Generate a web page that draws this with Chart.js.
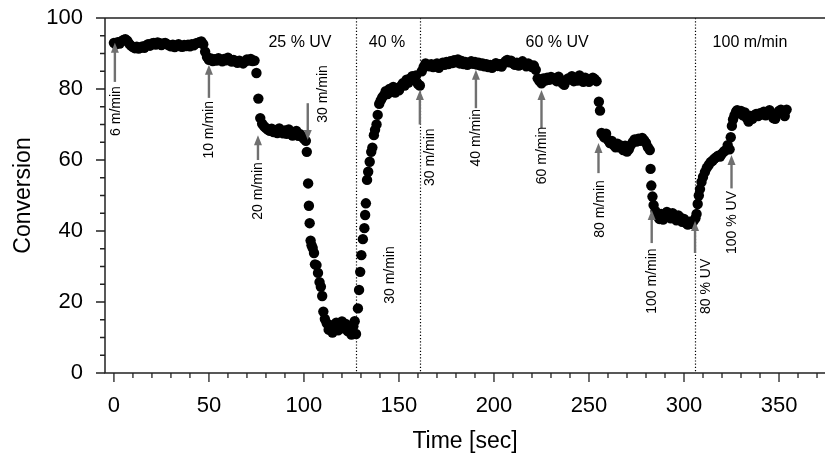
<!DOCTYPE html>
<html>
<head>
<meta charset="utf-8">
<script src="https://cdn.jsdelivr.net/npm/chart.js@4.4.1/dist/chart.umd.min.js"></script>
<style>
  html, body { margin: 0; padding: 0; background: #fff; }
  #wrap { width: 825px; height: 455px; }
</style>
</head>
<body>
<div id="wrap"><canvas id="graphique" width="825" height="455"></canvas></div>
<script>
// Measured points (time in seconds, conversion in %)
var timeSec = [
  0, 1, 2, 3, 4, 5, 6, 7, 8, 9,
  10, 11, 12, 13, 14, 15, 16, 17, 18, 19,
  20, 21, 22, 23, 24, 25, 26, 27, 28, 29,
  30, 31, 32, 33, 34, 35, 36, 37, 38, 39,
  40, 41, 42, 43, 44, 45, 46, 47, 48, 49,
  50, 51, 52, 53, 54, 55, 56, 57, 58, 59,
  60, 61, 62, 63, 64, 65, 66, 67, 68, 69,
  70, 71, 72, 73, 74, 75, 76, 77, 78, 79,
  80, 81, 82, 83, 84, 85, 86, 87, 88, 89,
  90, 91, 92, 93, 94, 95, 96, 97, 98, 99,
  100, 101, 101.5, 102.2, 102.6, 103, 103.5, 104, 104.6, 105.3,
  105.8, 106.6, 107.4, 108.2, 108.9, 109.6, 110.2, 111, 112, 113,
  114, 115, 116, 117, 118, 119, 120, 121, 122, 123,
  124, 125, 126, 126.7, 127.4, 128.4, 129, 129.6, 130.2, 131,
  131.8, 132.2, 132.6, 133.2, 133.8, 134.6, 135.4, 136, 136.8, 137.4,
  138.2, 138.8, 139.6, 140.4, 141.2, 142, 143, 144, 145, 146,
  147, 148, 149, 150, 151, 152, 153, 154, 155, 156,
  157, 158, 159, 160, 161, 162, 163, 164, 165, 166,
  167, 168, 169, 170, 171, 172, 173, 174, 175, 176,
  177, 178, 179, 180, 181, 182, 183, 184, 185, 186,
  187, 188, 189, 190, 191, 192, 193, 194, 195, 196,
  197, 198, 199, 200, 201, 202, 203, 204, 205, 206,
  207, 208, 209, 210, 211, 212, 213, 214, 215, 216,
  217, 218, 219, 220, 221, 222, 223, 224, 225, 226,
  227, 228, 229, 230, 231, 232, 233, 234, 235, 236,
  237, 238, 239, 240, 241, 242, 243, 244, 245, 246,
  247, 248, 249, 250, 251, 252, 253, 254, 255.2, 255.8,
  256.6, 257, 258, 259, 260, 261, 262, 263, 264, 265,
  266, 267, 268, 269, 270, 271, 272, 273, 274, 275,
  276, 277, 278, 279, 280, 281, 282, 282.4, 282.8, 283.4,
  284, 285, 286, 287, 288, 289, 290, 291, 292, 293,
  294, 295, 296, 297, 298, 299, 300, 301, 302, 303,
  304, 305, 306, 306.6, 307.2, 307.8, 308.4, 309.2, 310, 311,
  312, 313, 314, 315, 316, 317, 318, 319, 320, 321,
  322, 323, 324, 324.6, 325.2, 325.8, 326.6, 327.4, 328, 329,
  330, 331, 332, 333, 334, 335, 336, 337, 338, 339,
  340, 341, 342, 343, 344, 345, 346, 347, 348, 349,
  350, 351, 352, 353, 354
];
var conversion = [
  93.0, 92.6, 93.2, 92.8, 93.5, 93.8, 94.0, 93.6, 92.8, 92.2,
  91.8, 91.5, 91.9, 91.4, 91.7, 92.0, 91.6, 92.3, 92.6, 92.2,
  92.8, 93.0, 92.5, 93.1, 92.9, 92.4, 92.8, 93.0, 92.6, 92.3,
  92.0, 92.5, 91.8, 92.2, 92.6, 92.0, 91.9, 92.4, 92.1, 92.5,
  92.0, 92.6, 92.3, 92.8, 93.0, 93.2, 93.4, 92.6, 90.5, 89.0,
  88.2, 88.6, 87.9, 88.4, 88.0, 88.7, 88.2, 87.8, 88.5, 88.1,
  88.8, 88.3, 87.7, 88.2, 87.9, 87.4, 88.0, 87.6, 87.2, 87.8,
  88.3, 88.0, 88.5, 87.9, 88.0, 84.5, 77.3, 71.8, 70.2, 69.5,
  69.0, 68.6, 68.2, 68.8, 67.9, 68.4, 67.6, 68.9, 68.2, 67.5,
  68.3, 67.4, 68.6, 67.8, 66.9, 67.5, 68.2, 66.8, 67.3, 66.5,
  66.0, 65.4, 62.3, 53.4, 47.1, 42.2, 37.3, 36.0, 35.2, 33.8,
  30.6, 30.4, 28.2, 25.6, 24.3, 21.7, 17.3, 15.2, 14.0, 12.2,
  13.5, 11.4, 12.8, 14.2, 12.0, 13.6, 14.5, 12.6, 13.8, 11.8,
  12.4, 10.8, 13.2, 14.6, 11.0, 18.2, 23.4, 28.5, 33.2, 37.7,
  40.8, 44.5, 47.8, 54.4, 56.7, 59.5, 62.3, 63.5, 67.0, 68.5,
  70.0, 72.7, 75.8, 76.8, 77.6, 78.2, 79.4, 78.6, 80.0, 79.2,
  80.6, 79.0, 80.2, 79.6, 80.8, 81.6, 81.0, 82.6, 81.8, 83.0,
  83.6, 82.8, 83.8, 81.4, 81.0, 85.0, 86.2, 87.2, 86.8, 86.4,
  87.0, 86.2, 86.6, 87.2, 86.0, 86.9, 87.4, 86.8, 87.6, 87.0,
  87.8, 87.3, 88.1, 87.5, 88.3, 87.2, 87.9, 87.0, 87.6, 86.8,
  87.3, 87.8, 87.1, 87.6, 86.9, 87.4, 86.6, 87.2, 86.4, 87.0,
  86.2, 86.8, 86.0, 86.7, 87.3, 86.5, 87.0, 86.3, 87.2, 87.8,
  88.2, 87.5, 88.0, 87.2, 86.8, 87.4, 86.6, 87.1, 87.8, 87.0,
  86.4, 87.2, 86.8, 86.2, 86.6, 85.4, 83.0, 82.2, 81.6, 83.0,
  82.4, 83.2, 82.6, 83.4, 82.8, 83.0, 82.2, 83.5, 82.6, 81.6,
  81.2, 82.4, 83.0, 82.8, 83.6, 82.2, 83.0, 82.4, 83.8, 82.8,
  82.0, 83.2, 82.4, 82.0, 82.6, 83.2, 82.8, 82.2, 76.4, 73.9,
  67.6, 67.2, 66.4, 67.4, 65.6, 64.8, 65.4, 64.2, 63.6, 64.6,
  63.6, 64.0, 62.8, 64.0, 62.4, 63.0, 64.2, 65.0, 65.8, 65.2,
  66.0, 65.4, 66.2, 65.6, 64.8, 63.6, 62.8, 57.5, 52.8, 49.7,
  47.3, 45.6, 44.2, 43.4, 44.8, 43.2, 44.6, 45.4, 44.0, 43.6,
  45.0, 44.2, 43.0, 44.4, 43.8, 42.6, 43.4, 42.2, 41.8, 42.6,
  42.0, 42.8, 43.6, 44.8, 47.6, 50.0, 51.8, 53.8, 55.2, 56.6,
  57.8, 58.6, 59.4, 59.8, 60.4, 60.8, 61.2, 61.0, 61.8, 62.4,
  62.8, 64.2, 63.0, 66.4, 69.6, 71.4, 72.6, 73.6, 74.0, 73.2,
  73.8, 72.6, 73.4, 71.8, 70.8, 72.4, 71.6, 72.6, 73.0, 72.4,
  73.2, 72.8, 73.6, 72.6, 73.4, 74.0, 73.2, 71.8, 71.6, 73.0,
  73.8, 74.2, 73.2, 72.4, 74.2
];

// Axis ticks
var xTicks = [0, 50, 100, 150, 200, 250, 300, 350];
var yTicks = [0, 20, 40, 60, 80, 100];

// Dotted separators between UV phases (seconds)
var separateurs = [127.4, 161, 305.8];

// Arrows: time, tail value, tip value
var fleches = [
  { t: 0.5, de: 82, a: 93 },
  { t: 50, de: 77.5, a: 86.8 },
  { t: 75.8, de: 60, a: 67 },
  { t: 102, de: 76, a: 65.6 },
  { t: 161, de: 70, a: 79.7 },
  { t: 190.5, de: 74.6, a: 85.4 },
  { t: 225, de: 69, a: 79.7 },
  { t: 255, de: 56.3, a: 64.8 },
  { t: 283, de: 36.6, a: 45.9 },
  { t: 305.8, de: 33.8, a: 42.8 },
  { t: 325, de: 52, a: 61.4 }
];

// Vertical notes (text centre in data units)
var notesVert = [
  { txt: "6 m/min", t: 1.2, v: 73.8 },
  { txt: "10 m/min", t: 50, v: 68.5 },
  { txt: "20 m/min", t: 75.8, v: 51.3 },
  { txt: "30 m/min", t: 110, v: 78.6 },
  { txt: "30 m/min", t: 145.3, v: 27.6 },
  { txt: "30 m/min", t: 166.3, v: 60.8 },
  { txt: "40 m/min", t: 190.5, v: 66.3 },
  { txt: "60 m/min", t: 225.3, v: 61.3 },
  { txt: "80 m/min", t: 255.8, v: 46.2 },
  { txt: "100 m/min", t: 283.2, v: 25.9 },
  { txt: "80 % UV", t: 311.6, v: 24.4 },
  { txt: "100 % UV", t: 325.3, v: 42.4 }
];

// Horizontal notes at the top
var notesHaut = [
  { txt: "25 % UV", t: 97.9, v: 93.2 },
  { txt: "40 %", t: 143.7, v: 93.2 },
  { txt: "60 % UV", t: 233.2, v: 93.2 },
  { txt: "100 m/min", t: 334.7, v: 93.2 }
];

var police = '"Liberation Sans", Arial, Helvetica, sans-serif';

var points = [];
for (var i = 0; i < timeSec.length; i++) {
  points.push({ x: timeSec[i], y: conversion[i] });
}

// Separators drawn under the points
var separateurPlugin = {
  id: "separateurs",
  beforeDatasetsDraw: function(chart) {
    var ctx = chart.ctx, sx = chart.scales.x, sy = chart.scales.y;
    ctx.save();
    ctx.strokeStyle = "#000";
    ctx.lineWidth = 1.2;
    ctx.setLineDash([1.2, 2]);
    for (var i = 0; i < separateurs.length; i++) {
      var px = Math.round(sx.getPixelForValue(separateurs[i])) + 0.5;
      ctx.beginPath();
      ctx.moveTo(px, sy.getPixelForValue(100));
      ctx.lineTo(px, sy.getPixelForValue(0));
      ctx.stroke();
    }
    ctx.restore();
  }
};

// Frame, tick marks, arrows and notes
var decorPlugin = {
  id: "decor",
  afterDatasetsDraw: function(chart) {
    var ctx = chart.ctx, sx = chart.scales.x, sy = chart.scales.y;
    var area = chart.chartArea;
    ctx.save();

    // arrows
    ctx.strokeStyle = "#707070";
    ctx.fillStyle = "#707070";
    ctx.lineWidth = 2.4;
    for (var i = 0; i < fleches.length; i++) {
      var f = fleches[i];
      var px = sx.getPixelForValue(f.t);
      var y0 = sy.getPixelForValue(f.de);
      var y1 = sy.getPixelForValue(f.a);
      var dir = y1 < y0 ? -1 : 1;
      ctx.beginPath();
      ctx.moveTo(px, y0);
      ctx.lineTo(px, y1 - dir * 8);
      ctx.stroke();
      ctx.beginPath();
      ctx.moveTo(px, y1);
      ctx.lineTo(px - 4, y1 - dir * 10);
      ctx.lineTo(px + 4, y1 - dir * 10);
      ctx.closePath();
      ctx.fill();
    }

    // vertical notes
    ctx.fillStyle = "#000";
    ctx.font = "14px " + police;
    ctx.textAlign = "center";
    ctx.textBaseline = "middle";
    for (var j = 0; j < notesVert.length; j++) {
      var n = notesVert[j];
      ctx.save();
      ctx.translate(sx.getPixelForValue(n.t), sy.getPixelForValue(n.v));
      ctx.rotate(-Math.PI / 2);
      ctx.fillText(n.txt, 0, 0);
      ctx.restore();
    }

    // top notes
    ctx.font = "16px " + police;
    for (var k = 0; k < notesHaut.length; k++) {
      var h = notesHaut[k];
      ctx.fillText(h.txt, sx.getPixelForValue(h.t), sy.getPixelForValue(h.v));
    }

    // axis lines and frame top
    ctx.strokeStyle = "#222";
    ctx.lineWidth = 1.5;
    ctx.beginPath();
    ctx.moveTo(area.left, area.top);
    ctx.lineTo(area.right, area.top);
    ctx.moveTo(area.left, area.top);
    ctx.lineTo(area.left, area.bottom);
    ctx.lineTo(area.right, area.bottom);
    ctx.stroke();

    // y ticks: major every 20, minor every 5
    ctx.lineWidth = 1.3;
    ctx.beginPath();
    for (var v = 0; v <= 100; v += 5) {
      var py = sy.getPixelForValue(v);
      var len = (v % 20 === 0) ? 9 : 5;
      ctx.moveTo(area.left - len, py);
      ctx.lineTo(area.left, py);
    }
    // x ticks: major every 50, minor every 10
    for (var t = 0; t <= 370; t += 10) {
      var tx = sx.getPixelForValue(t);
      var tl = (t % 50 === 0) ? 9 : 5;
      ctx.moveTo(tx, area.bottom);
      ctx.lineTo(tx, area.bottom + tl);
    }
    ctx.stroke();
    ctx.restore();
  }
};

var ctx = document.getElementById("graphique").getContext("2d");

var chart = new Chart(ctx, {
  type: "scatter",
  data: {
    datasets: [{
      data: points,
      backgroundColor: "#000",
      borderWidth: 0,
      pointRadius: 5.2,
      pointHoverRadius: 5.2
    }]
  },
  options: {
    responsive: false,
    animation: false,
    events: [],
    layout: {
      autoPadding: false,
      padding: { top: 18, right: 0, bottom: 0, left: 0 }
    },
    plugins: {
      legend: { display: false },
      tooltip: { enabled: false }
    },
    scales: {
      x: {
        type: "linear",
        min: -4.7,
        max: 374.2,
        grid: { display: false, drawTicks: false },
        border: { display: false },
        afterBuildTicks: function(s) {
          s.ticks = xTicks.map(function(v) { return { value: v }; });
        },
        afterFit: function(s) {
          s.height = 82;
          s.paddingLeft = 0;
          s.paddingRight = 0;
        },
        ticks: {
          color: "#000",
          padding: 20,
          maxRotation: 0,
          autoSkip: false,
          font: { family: police, size: 22 }
        },
        title: {
          display: true,
          text: "Time [sec]",
          color: "#000",
          padding: { top: 0, bottom: 0 },
          font: { family: police, size: 23 }
        }
      },
      y: {
        min: 0,
        max: 100,
        grid: { display: false, drawTicks: false },
        border: { display: false },
        afterBuildTicks: function(s) {
          s.ticks = yTicks.map(function(v) { return { value: v }; });
        },
        afterFit: function(s) {
          s.width = 105;
          s.paddingTop = 0;
          s.paddingBottom = 0;
        },
        ticks: {
          color: "#000",
          padding: 22,
          autoSkip: false,
          font: { family: police, size: 22 }
        },
        title: {
          display: true,
          text: "Conversion",
          color: "#000",
          padding: { top: 10, bottom: 0 },
          font: { family: police, size: 23 }
        }
      }
    }
  },
  plugins: [separateurPlugin, decorPlugin]
});
</script>
</body>
</html>
